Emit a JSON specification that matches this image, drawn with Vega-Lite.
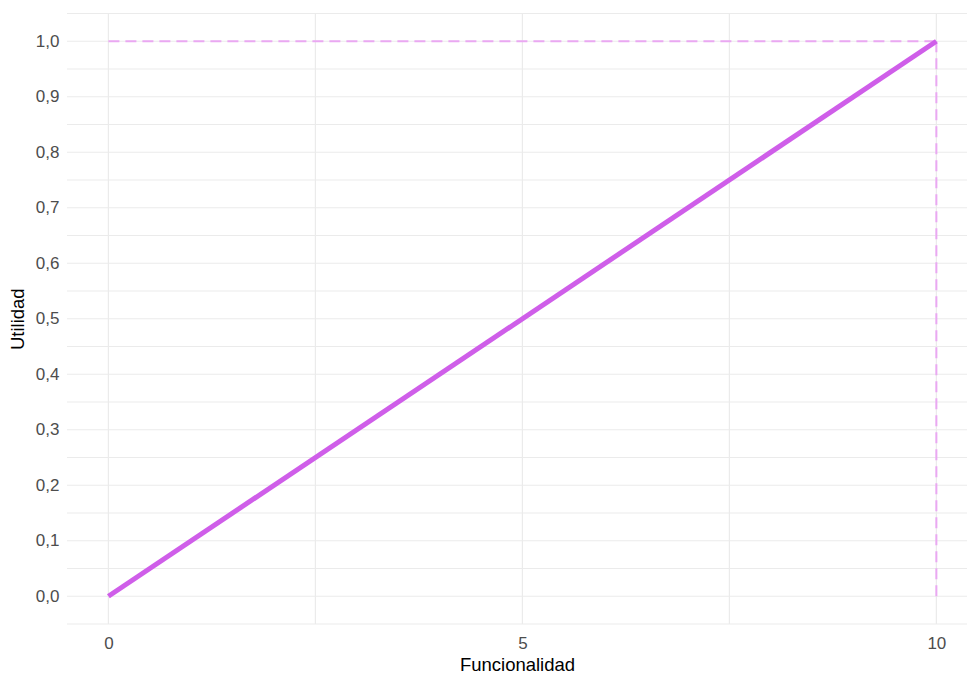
{
  "$schema": "https://vega.github.io/schema/vega-lite/v6.json",
  "width": 900,
  "height": 610.5,
  "autosize": {"type": "none"},
  "padding": {"left": 67, "top": 13.5, "right": 0, "bottom": 57},
  "background": "white",
  "config": {
    "view": {"stroke": null},
    "font": "Liberation Sans",
    "locale": {"number": {"decimal": ",", "thousands": ".", "grouping": [3], "currency": ["", " €"]}},
    "axis": {
      "grid": false,
      "domain": false,
      "ticks": false,
      "labelOverlap": false,
      "labelColor": "#4d4d4d",
      "labelFontSize": 17,
      "titleColor": "#000000",
      "titleFontSize": 18.5,
      "titleFontWeight": "normal"
    }
  },
  "datasets": {
    "main": [{"f": 0, "u": 0}, {"f": 10, "u": 1}],
    "hdash": [{"f": 0, "u": 1}, {"f": 10, "u": 1}],
    "vdash": [{"f": 10, "u": 1}, {"f": 10, "u": 0}],
    "xgrid": [{"g": 0}, {"g": 2.5}, {"g": 5}, {"g": 7.5}, {"g": 10}],
    "ygrid": [{"g": -0.05}, {"g": 0}, {"g": 0.05}, {"g": 0.1}, {"g": 0.15}, {"g": 0.2}, {"g": 0.25}, {"g": 0.3}, {"g": 0.35}, {"g": 0.4}, {"g": 0.45}, {"g": 0.5}, {"g": 0.55}, {"g": 0.6}, {"g": 0.65}, {"g": 0.7}, {"g": 0.75}, {"g": 0.8}, {"g": 0.85}, {"g": 0.9}, {"g": 0.95}, {"g": 1}, {"g": 1.05}]
  },
  "layer": [
    {
      "data": {"name": "xgrid"},
      "mark": {"type": "rule", "stroke": "#ebebeb", "strokeWidth": 1.2},
      "encoding": {
        "x": {
          "field": "g", "type": "quantitative",
          "scale": {"domain": [-0.5, 10.37], "nice": false, "zero": false},
          "axis": {
            "values": [0, 5, 10],
            "format": "d",
            "title": "Funcionalidad",
            "labelPadding": 11,
            "titlePadding": 4
          }
        }
      }
    },
    {
      "data": {"name": "ygrid"},
      "mark": {"type": "rule", "stroke": "#ebebeb", "strokeWidth": 1.2},
      "encoding": {
        "y": {
          "field": "g", "type": "quantitative",
          "scale": {"domain": [-0.05, 1.05], "nice": false, "zero": false},
          "axis": {
            "values": [0, 0.1, 0.2, 0.3, 0.4, 0.5, 0.6, 0.7, 0.8, 0.9, 1],
            "format": ".1f",
            "title": "Utilidad",
            "labelPadding": 8,
            "titlePadding": 8
          }
        }
      }
    },
    {
      "data": {"name": "hdash"},
      "mark": {"type": "line", "stroke": "#eaa8f2", "strokeWidth": 2, "strokeDash": [11, 6]},
      "encoding": {
        "x": {"field": "f", "type": "quantitative"},
        "y": {"field": "u", "type": "quantitative"}
      }
    },
    {
      "data": {"name": "vdash"},
      "mark": {"type": "line", "stroke": "#eaa8f2", "strokeWidth": 2, "strokeDash": [11, 6]},
      "encoding": {
        "x": {"field": "f", "type": "quantitative"},
        "y": {"field": "u", "type": "quantitative"},
        "order": {"field": "u", "sort": "descending"}
      }
    },
    {
      "data": {"name": "main"},
      "mark": {"type": "line", "stroke": "#cf5ee9", "strokeWidth": 5},
      "encoding": {
        "x": {"field": "f", "type": "quantitative"},
        "y": {"field": "u", "type": "quantitative"}
      }
    }
  ]
}
